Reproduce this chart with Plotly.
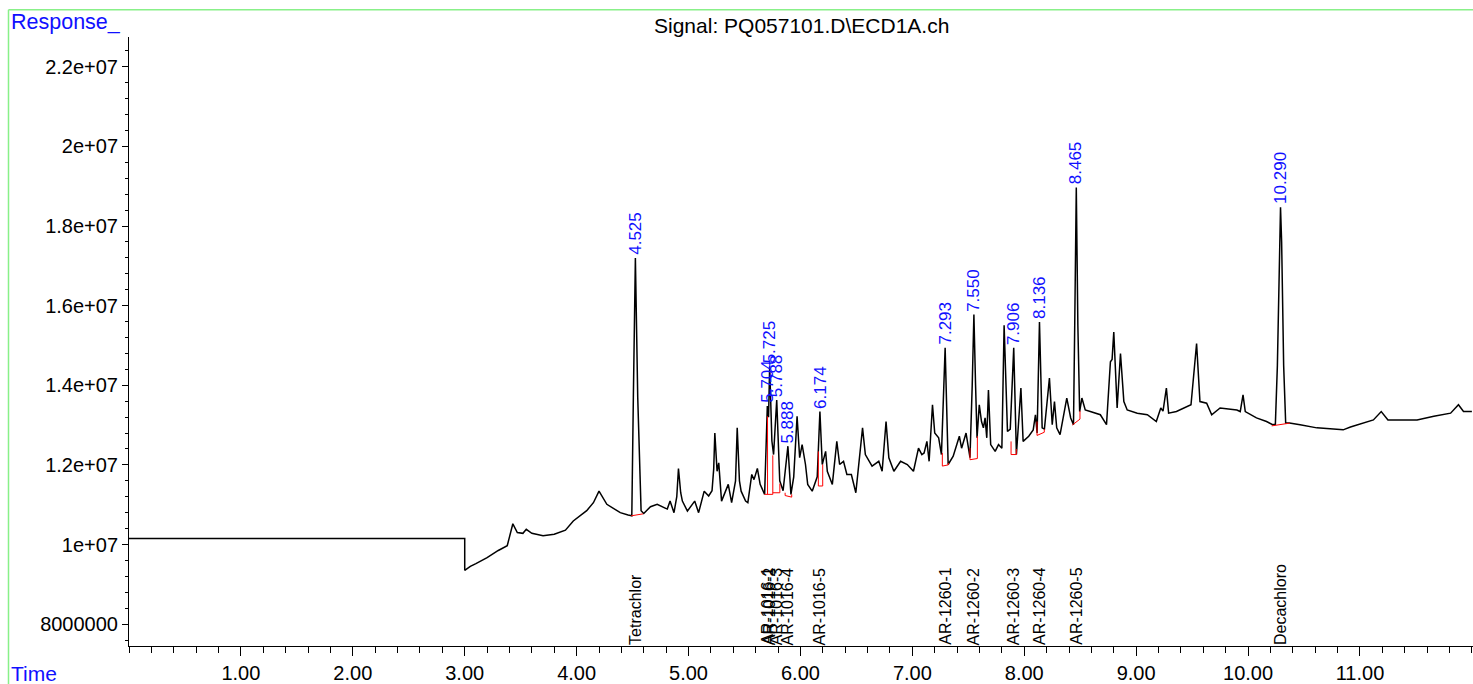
import plotly.graph_objects as go

# ---------------- data ----------------
signal_time = [
    0.00, 3.00, 3.00, 3.05, 3.10, 3.20, 3.30, 3.38, 3.43, 3.47, 3.52, 3.55, 3.60, 3.70, 3.80, 3.90, 3.97,
    4.09, 4.15, 4.20, 4.27, 4.33, 4.39, 4.46, 4.493,
    4.507, 4.525, 4.546, 4.576,
    4.60, 4.66, 4.72, 4.81, 4.835, 4.87, 4.895, 4.91, 4.93, 4.945, 4.99, 5.055, 5.09, 5.14, 5.18, 5.21,
    5.225, 5.235, 5.255, 5.27, 5.295, 5.355, 5.385, 5.42, 5.435, 5.455, 5.47, 5.51, 5.53, 5.565, 5.585,
    5.615, 5.64, 5.68,
    5.704, 5.715, 5.725, 5.745, 5.76, 5.788, 5.815, 5.845, 5.888, 5.915, 5.94, 5.97, 5.993, 6.015, 6.045,
    6.065, 6.105, 6.15, 6.174, 6.195, 6.225, 6.24, 6.285, 6.325, 6.35, 6.385, 6.415, 6.455, 6.495, 6.52,
    6.555, 6.58, 6.64, 6.70, 6.73, 6.765, 6.79, 6.835, 6.895, 6.955, 7.01, 7.055, 7.085, 7.105, 7.13,
    7.15, 7.18, 7.20, 7.235, 7.26,
    7.293, 7.32, 7.365, 7.42, 7.44, 7.48, 7.515,
    7.535, 7.550, 7.565, 7.578, 7.598, 7.618, 7.635, 7.65, 7.665, 7.68, 7.70, 7.74, 7.77, 7.80, 7.82,
    7.85, 7.875,
    7.906, 7.93, 7.97, 7.99, 8.04, 8.08, 8.10, 8.115,
    8.136, 8.16, 8.18, 8.225, 8.25, 8.27, 8.29, 8.32, 8.35, 8.38, 8.415, 8.44,
    8.451, 8.465, 8.479, 8.495,
    8.515, 8.545, 8.59, 8.68, 8.735, 8.77, 8.785, 8.80, 8.83, 8.86, 8.89, 8.92, 9.01, 9.10, 9.18, 9.22,
    9.24, 9.27, 9.29, 9.36, 9.49, 9.54, 9.57, 9.63, 9.675, 9.75, 9.90, 9.93, 9.955, 9.975, 10.075,
    10.165, 10.22,
    10.244, 10.262, 10.280, 10.290, 10.300, 10.318, 10.336,
    10.37, 10.465, 10.615, 10.85, 10.915, 11.12, 11.19, 11.25, 11.51, 11.66, 11.81, 11.88, 11.925, 12.0,
]
signal_response_e6 = [
    10.15, 10.15, 9.35, 9.45, 9.52, 9.67, 9.85, 9.97, 10.52, 10.30, 10.28, 10.38, 10.28, 10.22, 10.26, 10.36, 10.59,
    10.85, 11.05, 11.34, 11.01, 10.90, 10.80, 10.74, 10.72,
    13.7, 17.2, 13.7, 10.85,
    10.78, 10.95, 11.01, 10.89, 11.09, 10.80, 11.2, 11.91, 11.3, 11.09, 10.84, 11.09, 10.80, 11.34, 11.22, 11.35,
    11.9, 12.80, 11.84, 12.05, 11.09, 11.51, 11.05, 11.6, 12.93, 11.6, 11.34, 11.09, 11.05, 11.76, 11.63,
    11.91, 11.51, 11.26,
    13.48, 13.2, 14.48, 12.6, 12.26, 13.63, 11.6, 11.35, 12.47, 11.26, 11.7, 13.22, 12.18, 12.51, 12.01,
    11.51, 11.34, 11.7, 13.34, 12.01, 12.34, 11.84, 11.51, 12.59, 12.01, 12.09, 11.76, 11.76, 11.30, 12.01,
    12.93, 12.26, 11.97, 12.09, 11.84, 13.09, 12.18, 11.84, 12.09, 12.01, 11.84, 12.42, 12.26, 12.3, 12.59,
    12.09, 13.51, 12.8, 12.68, 12.26,
    14.94, 12.01, 12.22, 12.72, 12.42, 12.8, 12.18,
    14.0, 15.78, 14.0, 12.68, 13.51, 13.09, 12.93, 13.18, 12.68, 13.88, 12.51, 12.34, 12.51, 12.42, 15.51,
    12.84, 12.9,
    14.94, 12.26, 13.93, 12.59, 12.72, 12.88, 13.26, 12.8,
    15.59, 12.93, 12.9, 14.18, 13.01, 13.59, 12.93, 12.76, 13.26, 13.68, 13.18, 13.01,
    15.5, 18.97, 15.5, 13.34,
    13.68, 13.38, 13.34, 13.26, 13.01, 14.59, 14.65, 15.34, 13.43, 14.80, 13.59, 13.38, 13.30, 13.26, 13.09, 13.43,
    13.35, 13.93, 13.30, 13.34, 13.51, 15.05, 13.59, 13.55, 13.26, 13.43, 13.38, 13.34, 13.76, 13.34, 13.18,
    13.09, 13.01,
    13.02, 14.5, 17.6, 18.47, 17.6, 14.5, 13.05,
    13.05, 13.01, 12.93, 12.88, 12.95, 13.13, 13.34, 13.13, 13.13, 13.22, 13.30, 13.51, 13.34, 13.34,
]

# integration baselines (red), each a polyline of (time, response e6)
baseline_segments = [
    [(4.487, 10.72), (4.594, 10.77)],
    [(5.678, 11.26), (5.753, 11.26)],
    [(5.706, 11.26), (5.706, 13.22)],
    [(5.753, 11.26), (5.753, 12.24)],
    [(5.753, 11.30), (5.816, 11.30), (5.816, 11.53)],
    [(5.863, 11.30), (5.863, 11.23), (5.922, 11.19), (5.922, 11.26)],
    [(6.160, 12.34), (6.160, 11.47), (6.199, 11.47), (6.199, 12.01)],
    [(7.268, 12.30), (7.268, 11.97), (7.321, 12.00), (7.321, 12.05)],
    [(7.515, 12.42), (7.515, 12.13), (7.581, 12.16), (7.581, 12.72)],
    [(7.882, 12.59), (7.882, 12.26), (7.929, 12.26), (7.929, 12.40)],
    [(8.114, 13.09), (8.114, 12.74), (8.179, 12.82), (8.179, 12.90)],
    [(8.429, 13.00), (8.498, 13.15), (8.498, 13.36)],
    [(10.211, 12.98), (10.374, 13.05)],
]

peak_times = ["4.525", "5.704", "5.725", "5.788", "5.888", "6.174",
              "7.293", "7.550", "7.906", "8.136", "8.465", "10.290"]
peak_heights_e6 = [17.2, 13.48, 14.48, 13.63, 12.47, 13.34,
                   14.94, 15.78, 14.94, 15.59, 18.97, 18.47]

compound_names = ["Tetrachlor", "AR-1016-1", "AR-1016-2", "AR-1016-3", "AR-1016-4", "AR-1016-5",
                  "AR-1260-1", "AR-1260-2", "AR-1260-3", "AR-1260-4", "AR-1260-5", "Decachloro"]
compound_times = [4.525, 5.704, 5.725, 5.788, 5.888, 6.174,
                  7.293, 7.550, 7.906, 8.136, 8.465, 10.290]

x_tick_vals = [1, 2, 3, 4, 5, 6, 7, 8, 9, 10, 11]
x_tick_text = ["1.00", "2.00", "3.00", "4.00", "5.00", "6.00", "7.00", "8.00", "9.00", "10.00", "11.00"]
y_tick_vals = [8e6, 1e7, 1.2e7, 1.4e7, 1.6e7, 1.8e7, 2e7, 2.2e7]
y_tick_text = ["8000000", "1e+07", "1.2e+07", "1.4e+07", "1.6e+07", "1.8e+07", "2e+07", "2.2e+07"]

title_text = "Signal: PQ057101.D\\ECD1A.ch"

# ---------------- figure ----------------
FONT = "Liberation Sans, Arial, sans-serif"
W, H = 1473, 684
ML, MR, MT, MB = 129, 0, 37, 35
PW = W - ML - MR
PH = H - MT - MB

fig = go.Figure()

fig.add_trace(go.Scatter(
    x=signal_time, y=[v * 1e6 for v in signal_response_e6],
    mode="lines", line=dict(color="black", width=1.5), hoverinfo="skip"))

bx, by = [], []
for seg in baseline_segments:
    for t, r in seg:
        bx.append(t)
        by.append(r * 1e6)
    bx.append(None)
    by.append(None)
fig.add_trace(go.Scatter(x=bx, y=by, mode="lines",
                         line=dict(color="red", width=1), hoverinfo="skip"))

annotations = []
for lab, h in zip(peak_times, peak_heights_e6):
    annotations.append(dict(x=float(lab), y=h * 1e6, xref="x", yref="y", text=lab,
                            textangle=-90, showarrow=False, xanchor="center", yanchor="bottom",
                            yshift=1, font=dict(family=FONT, size=17, color="#1010ff")))
for name, t in zip(compound_names, compound_times):
    annotations.append(dict(x=t, y=0, xref="x", yref="paper", text=name,
                            textangle=-90, showarrow=False, xanchor="center", yanchor="bottom",
                            yshift=-1, font=dict(family=FONT, size=16, color="black")))
annotations.append(dict(x=0.5, y=1 + 12 / PH, xref="paper", yref="paper", text=title_text,
                        showarrow=False, xanchor="center", yanchor="middle",
                        font=dict(family=FONT, size=21, color="black")))
annotations.append(dict(x=(9 - ML) / PW, y=1 + 15 / PH, xref="paper", yref="paper",
                        text="Response_", showarrow=False, xanchor="left", yanchor="middle",
                        font=dict(family=FONT, size=21.5, color="#1010ff")))
annotations.append(dict(x=(9 - ML) / PW, y=-28 / PH, xref="paper", yref="paper",
                        text="Time", showarrow=False, xanchor="left", yanchor="middle",
                        font=dict(family=FONT, size=21, color="#1010ff")))

green = "#88f088"
gx = (8.5 - ML) / PW
gy = 1 + (MT - 9.5) / PH
shapes = [
    dict(type="line", xref="paper", yref="paper", x0=gx, x1=gx, y0=gy, y1=-0.2,
         line=dict(color=green, width=1.5)),
    dict(type="line", xref="paper", yref="paper", x0=gx, x1=1.02, y0=gy, y1=gy,
         line=dict(color=green, width=1.5)),
]

fig.update_layout(
    width=W, height=H,
    margin=dict(l=ML, r=MR, t=MT, b=MB, pad=0),
    plot_bgcolor="white", paper_bgcolor="white",
    showlegend=False, hovermode=False,
    annotations=annotations, shapes=shapes,
    font=dict(family=FONT, color="black"),
    xaxis=dict(range=[0, 12.01], showline=True, linecolor="black", linewidth=1,
               ticks="outside", ticklen=9, tickcolor="black", tickwidth=1,
               tickmode="array", tickvals=x_tick_vals, ticktext=x_tick_text,
               tickfont=dict(family=FONT, size=20, color="black"),
               showgrid=False, zeroline=False,
               minor=dict(ticks="outside", ticklen=6, tickcolor="black", tickwidth=1,
                          dtick=0.2, tick0=0, showgrid=False)),
    yaxis=dict(range=[7.45e6, 22.75e6], showline=True, linecolor="black", linewidth=1,
               ticks="outside", ticklen=6, tickcolor="black", tickwidth=1,
               tickmode="array", tickvals=y_tick_vals, ticktext=y_tick_text,
               tickfont=dict(family=FONT, size=20, color="black"),
               showgrid=False, zeroline=False,
               minor=dict(ticks="outside", ticklen=3, tickcolor="black", tickwidth=1,
                          dtick=4e5, tick0=0, showgrid=False)),
)

fig.write_html("out.html",
               config={"displayModeBar": False},
               post_script="document.body.style.margin='0';document.body.style.overflow='hidden';")
